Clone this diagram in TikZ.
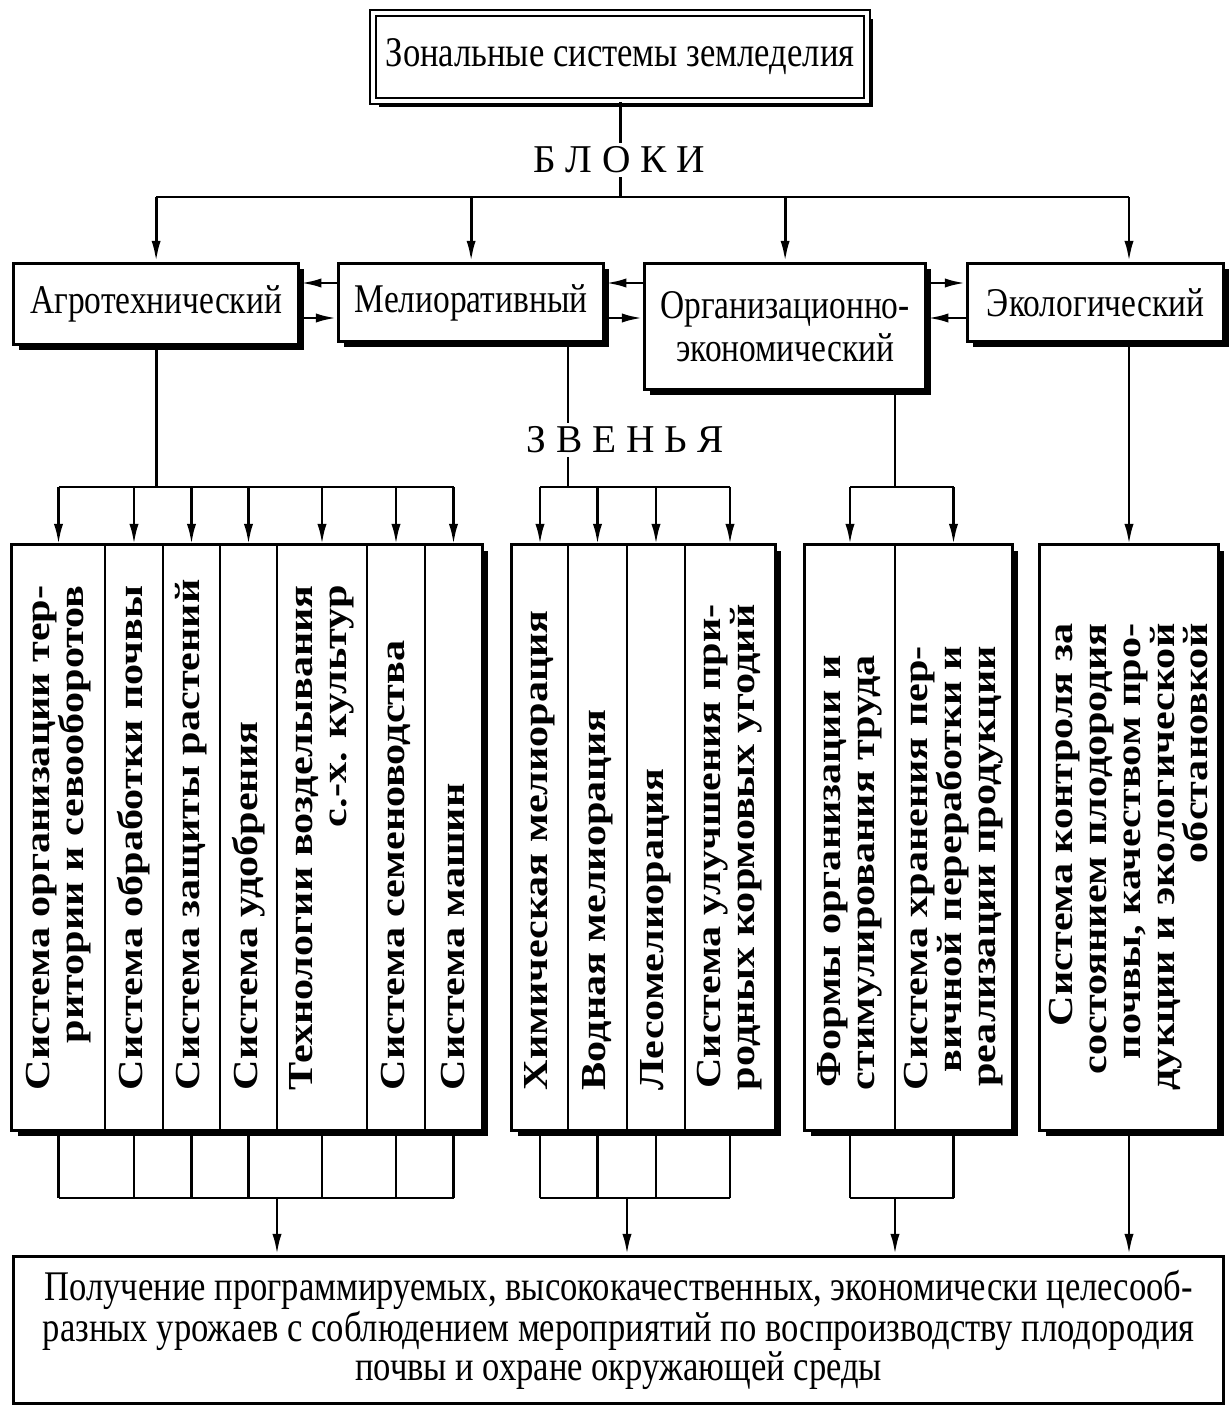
\documentclass[tikz,border=0pt]{standalone}
\usepackage{fontspec}
\setmainfont{Liberation Serif}
\newfontfamily\condfont[FakeStretch=0.82]{Liberation Serif}
\newfontfamily\linkfont[FakeStretch=1.2]{Liberation Serif}
\usetikzlibrary{arrows.meta, positioning, fit, backgrounds, shadows}
\newlength\pix
\setlength\pix{0.025cm}
\tikzset{
    box/.style={draw, line width=2.3pt, fill=white, inner sep=0pt, align=center, anchor=north west, font=\condfont\fontsize{29}{31}\selectfont},
    shadowed/.style={drop shadow={shadow xshift=4pt, shadow yshift=-4pt, fill=black, opacity=1}},
    link/.style={draw, line width=1.8pt, fill=white, outer sep=0pt, inner sep=0pt, minimum height=585\pix, anchor=north west},
    linktext/.style={rotate=90, anchor=west, inner sep=0pt, align=right, font=\linkfont\bfseries\fontsize{25}{24}\selectfont},
    tag/.style={fill=white, inner sep=3pt, font=\fontsize{28}{30}\selectfont},
    wire/.style={line width=2.1pt},
    arrow/.style={-{Latex[length=15pt,width=6.5pt]}, line width=2.1pt}
}

\begin{document}
\begin{tikzpicture}[x=0.025cm, y=-0.025cm]
    \useasboundingbox (0,0) rectangle (1231,1412);

    % заголовок и блоки
    \node [box, double, double distance=3pt, line width=1.5pt, shadowed, minimum width=494\pix, minimum height=88\pix, font=\condfont\fontsize{30}{32}\selectfont] (zones) at (372,12) {Зональные системы земледелия};
    \node [box, shadowed, minimum width=285\pix, minimum height=81\pix] (agro) at (12,262) {Агротехнический};
    \node [box, shadowed, minimum width=265\pix, minimum height=78\pix] (melio) at (337,262) {Мелиоративный};
    \node [box, shadowed, minimum width=281\pix, minimum height=126\pix] (org) at (643,262) {Организационно-\\экономический};
    \node [box, shadowed, minimum width=256\pix, minimum height=78\pix] (eko) at (966,262) {Экологический};

    % звенья агротехнического блока
    \node [link, minimum width=93\pix] (a1) at (12,545) {};
    \node [link, minimum width=58\pix, right=0pt of a1] (a2) {};
    \node [link, minimum width=57\pix, right=0pt of a2] (a3) {};
    \node [link, minimum width=57\pix, right=0pt of a3] (a4) {};
    \node [link, minimum width=90\pix, right=0pt of a4] (a5) {};
    \node [link, minimum width=58\pix, right=0pt of a5] (a6) {};
    \node [link, minimum width=57\pix, right=0pt of a6] (a7) {};

    % звенья мелиоративного блока
    \node [link, minimum width=56\pix] (m1) at (512,545) {};
    \node [link, minimum width=59\pix, right=0pt of m1] (m2) {};
    \node [link, minimum width=58\pix, right=0pt of m2] (m3) {};
    \node [link, minimum width=90\pix, right=0pt of m3] (m4) {};

    % организационно-экономические и экологическое звенья
    \node [link, minimum width=90\pix] (o1) at (805,545) {};
    \node [link, minimum width=117\pix, right=0pt of o1] (o2) {};
    \node [link, minimum width=178\pix] (e1) at (1040,545) {};

    \begin{scope}[on background layer]
        \node [fit=(a1)(a7), inner sep=0pt, draw, line width=2.3pt, fill=white, shadowed] (agroLinks) {};
        \node [fit=(m1)(m4), inner sep=0pt, draw, line width=2.3pt, fill=white, shadowed] (melioLinks) {};
        \node [fit=(o1)(o2), inner sep=0pt, draw, line width=2.3pt, fill=white, shadowed] (orgLinks) {};
        \node [fit=(e1), inner sep=0pt, draw, line width=2.3pt, fill=white, shadowed] (ekoLinks) {};
    \end{scope}

    \node [linktext] (ta1) at ([yshift=28pt]a1.south) {Система организации тер-\\ритории и севооборотов};
    \node [linktext] (ta2) at ([yshift=28pt]a2.south) {Система обработки почвы};
    \node [linktext] (ta3) at ([yshift=28pt]a3.south) {Система защиты растений};
    \node [linktext] (ta4) at ([yshift=28pt]a4.south) {Система удобрения};
    \node [linktext] (ta5) at ([yshift=28pt]a5.south) {Технологии возделывания\\с.-х. культур};
    \node [linktext] (ta6) at ([yshift=28pt]a6.south) {Система семеноводства};
    \node [linktext] (ta7) at ([yshift=28pt]a7.south) {Система машин};
    \node [linktext] (tm1) at ([yshift=28pt]m1.south) {Химическая мелиорация};
    \node [linktext] (tm2) at ([yshift=28pt]m2.south) {Водная мелиорация};
    \node [linktext] (tm3) at ([yshift=28pt]m3.south) {Лесомелиорация};
    \node [linktext] (tm4) at ([yshift=28pt]m4.south) {Система улучшения при-\\родных кормовых угодий};
    \node [linktext] (to1) at ([yshift=28pt]o1.south) {Формы организации и\\стимулирования труда};
    \node [linktext] (to2) at ([yshift=28pt]o2.south) {Система хранения пер-\\вичной переработки и\\реализации продукции};
    \node [linktext] (te1) at ([yshift=28pt]e1.south) {Система контроля за\\состоянием плодородия\\почвы, качеством про-\\дукции и экологической\\обстановкой};

    \node [box, minimum width=1210\pix, minimum height=147\pix, font=\condfont\fontsize{30}{27}\selectfont] (result) at (12,1255) {Получение программируемых, высококачественных, экономически целесооб-\\разных урожаев с соблюдением мероприятий по воспроизводству плодородия\\почвы и охране окружающей среды};

    \coordinate (blkY) at (0,197);
    \coordinate (upY) at (0,283);
    \coordinate (loY) at (0,318);
    \coordinate (busY) at (0,487);
    \coordinate (feetY) at (0,1198);

    % от заголовка к блокам
    \draw [wire] (zones) -- (zones.south |- blkY);
    \node [tag] (blocks) at (619,160) {Б Л О К И};
    \draw [wire] (agro.north |- blkY) -- (e1.north |- blkY);
    \foreach \b in {agro,melio,org}
        \draw [arrow] (\b.north |- blkY) -- (\b.north);
    \draw [arrow] (e1.north |- blkY) -- (e1.north |- eko.north);

    % связи между блоками
    \draw [arrow] (melio.west |- upY) -- (agro.east |- upY);
    \draw [arrow] (agro.east |- loY) -- (melio.west |- loY);
    \draw [arrow] (org.west |- upY) -- (melio.east |- upY);
    \draw [arrow] (melio.east |- loY) -- (org.west |- loY);
    \draw [arrow] (org.east |- upY) -- (eko.west |- upY);
    \draw [arrow] (eko.west |- loY) -- (org.east |- loY);

    % от блоков к звеньям
    \draw [wire] (agro) -- (agro.south |- busY);
    \draw [wire] (a1.north |- busY) -- (a7.north |- busY);
    \foreach \i in {1,...,7}
        \draw [arrow] (a\i.north |- busY) -- (a\i.north);
    \draw [wire] (melio.south -| m1.east) -- (m1.east |- busY);
    \node [tag] (links) at (625,440) {З В Е Н Ь Я};
    \draw [wire] (m1.north |- busY) -- (m4.north |- busY);
    \foreach \i in {1,...,4}
        \draw [arrow] (m\i.north |- busY) -- (m\i.north);
    \draw [wire] (org.south -| o1.east) -- (o1.east |- busY);
    \draw [wire] (o1.north |- busY) -- (o2.north |- busY);
    \foreach \i in {1,2}
        \draw [arrow] (o\i.north |- busY) -- (o\i.north);
    \draw [arrow] (eko.south -| e1.north) -- (e1.north);

    % от звеньев к результату
    \foreach \i in {1,...,7}
        \draw [wire] (a\i.south) -- (a\i.south |- feetY);
    \draw [wire] (a1.south |- feetY) -- (a7.south |- feetY);
    \draw [arrow] (a4.east |- feetY) -- (a4.east |- result.north);
    \foreach \i in {1,...,4}
        \draw [wire] (m\i.south) -- (m\i.south |- feetY);
    \draw [wire] (m1.south |- feetY) -- (m4.south |- feetY);
    \draw [arrow] (m2.east |- feetY) -- (m2.east |- result.north);
    \foreach \i in {1,2}
        \draw [wire] (o\i.south) -- (o\i.south |- feetY);
    \draw [wire] (o1.south |- feetY) -- (o2.south |- feetY);
    \draw [arrow] (o1.east |- feetY) -- (o1.east |- result.north);
    \draw [arrow] (e1.south) -- (e1.south |- result.north);
\end{tikzpicture}
\end{document}
